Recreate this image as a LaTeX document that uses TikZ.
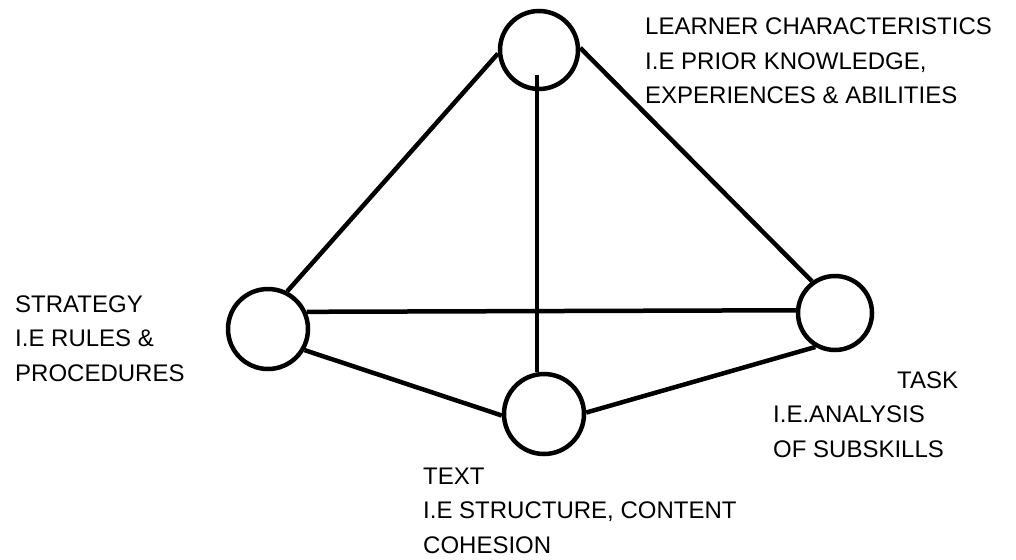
\documentclass[tikz,border=0pt]{standalone}
\usepackage{fontspec}
\setmainfont{Liberation Sans}
\usepackage{tikz}

\tikzset{
  ball/.style={draw, circle, line width=4.5pt, inner sep=0pt},
  link/.style={line width=4.5pt},
  label text/.style={anchor=base west, inner sep=0pt, align=left,
    font=\fontsize{24}{34.5}\selectfont}
}

\begin{document}
\begin{tikzpicture}[x=1pt,y=1pt,yscale=-1,xscale=1]
%set diagram left start at 0, and has height of 559
\useasboundingbox (0,0) rectangle (1016,559);

%Shape: Circles
\node [ball, minimum size=78pt] (learner) at (539,50) {};
\node [ball, minimum size=80pt] (strategy) at (268,329) {};
\node [ball, minimum size=74pt] (task) at (835,313) {};
\node [ball, minimum size=80pt] (text) at (544,414) {};
\coordinate (mid) at (537,75);

%Straight Lines
\draw [link] (learner.185) -- (strategy.63);
\draw [link] (learner.3) -- (task.126);
\draw [link] (mid) -- (mid |- text.north);
\draw [link] (strategy.24) -- (task.176);
\draw [link] (strategy.-30) -- (text.182);
\draw [link] (text.2) -- (task.240);

% Text Node (anchored at last baseline)
\node [label text] (learnerlbl) at (645,104) {LEARNER CHARACTERISTICS\\I.E PRIOR KNOWLEDGE,\\EXPERIENCES \& ABILITIES};
% Text Node
\node [label text] (strategylbl) at (15,381) {STRATEGY\\I.E RULES \&\\PROCEDURES};
% Text Node
\node [label text] (tasklbl) at (773,457) {\hspace*{124pt}TASK\\I.E.ANALYSIS\\OF SUBSKILLS};
% Text Node
\node [label text] (textlbl) at (423,553) {TEXT\\I.E STRUCTURE, CONTENT\\COHESION};

\end{tikzpicture}
\end{document}
